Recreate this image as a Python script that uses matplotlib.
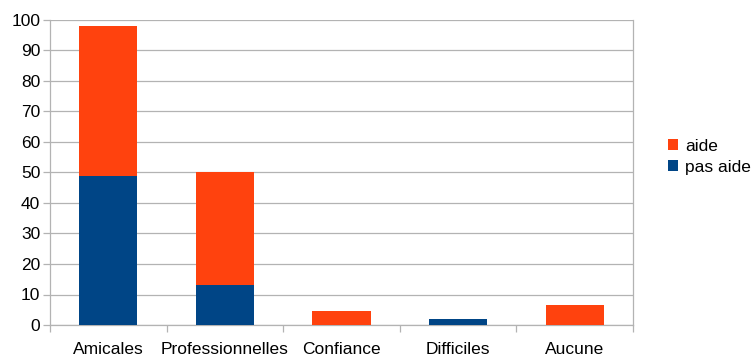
import matplotlib.pyplot as plt
import numpy as np

categories = ["Amicales", "Professionnelles", "Confiance", "Difficiles", "Aucune"]
pas_aide = [49, 13, 0, 2, 0]
aide = [49, 37.3, 4.5, 0, 6.5]

plt.rcParams['font.family'] = ['Liberation Sans', 'DejaVu Sans']

fig = plt.figure(figsize=(7.53, 3.56), dpi=100)
ax = fig.add_axes([50/753, 1-325/356, 583/753, 305/356])

x = np.arange(len(categories))
ax.bar(x, pas_aide, width=0.5, color="#004586", label="pas aide", zorder=3)
ax.bar(x, aide, width=0.5, bottom=pas_aide, color="#FF420E", label="aide", zorder=3)

ax.set_xlim(-0.5, len(categories) - 0.5)
ax.set_ylim(0, 100)
ax.set_yticks(range(0, 101, 10))
ax.yaxis.grid(True, color="#b3b3b3", linewidth=0.9, zorder=0)
ax.set_xticks(x)
ax.set_xticklabels(categories)
ax.set_xticks(np.arange(-0.5, len(categories)), minor=True)
ax.tick_params(axis="x", which="major", length=0, labelsize=12.5, pad=12)
ax.tick_params(axis="x", which="minor", length=5, color="#b3b3b3", width=0.9)
ax.tick_params(axis="y", length=5, color="#b3b3b3", width=0.9, labelsize=12.5, pad=2)

for s in ["left", "right", "bottom"]:
    ax.spines[s].set_color("#b3b3b3")
    ax.spines[s].set_linewidth(0.9)
ax.spines["top"].set_visible(False)

h, l = ax.get_legend_handles_labels()
ax.legend(h[::-1], l[::-1], loc="center left", bbox_to_anchor=((668 - 50)/583, (325 - 157)/305),
          frameon=False, fontsize=12.5, handlelength=0.6, handleheight=0.6,
          handletextpad=0.4, labelspacing=0.35, borderaxespad=0, borderpad=0)

fig.savefig("out.png", dpi=100)
